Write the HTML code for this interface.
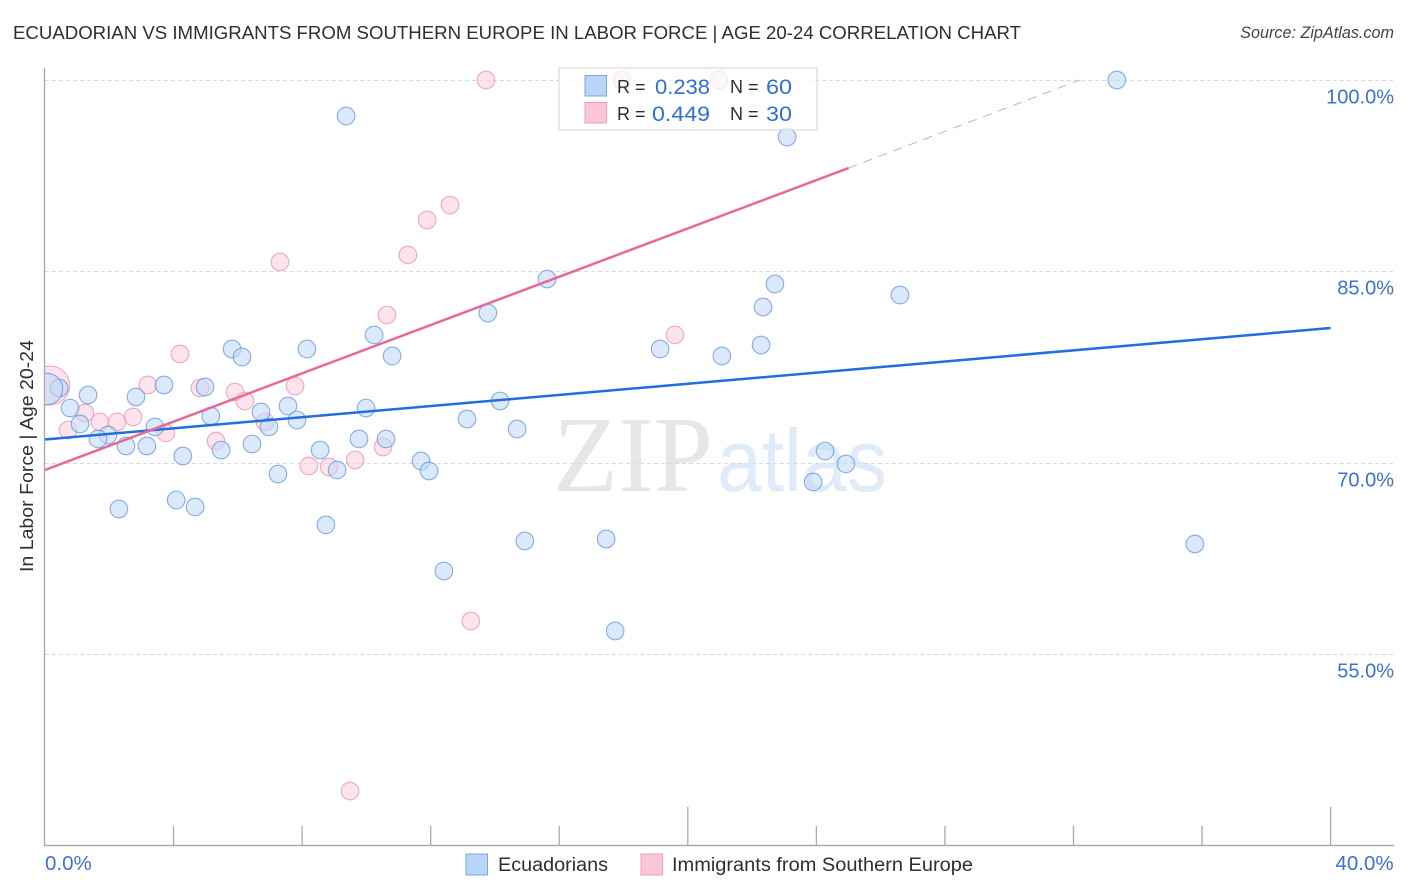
<!DOCTYPE html>
<html lang="en">
<head>
<meta charset="utf-8">
<title>Ecuadorian vs Immigrants from Southern Europe in Labor Force | Age 20-24 Correlation Chart</title>
<style>
html,body{margin:0;padding:0;background:#fff;width:1406px;height:892px;overflow:hidden}
svg{display:block;font-family:"Liberation Sans",sans-serif}
</style>
</head>
<body>
<svg id="chart" width="1406" height="892" viewBox="0 0 1406 892" xmlns="http://www.w3.org/2000/svg">
  <defs>
    <clipPath id="plot-clip"><rect x="45" y="60" width="1349" height="785"/></clipPath>
  </defs>
  <text x="13" y="39" font-size="18.5" fill="#2b2f36" textLength="1008" lengthAdjust="spacingAndGlyphs">ECUADORIAN VS IMMIGRANTS FROM SOUTHERN EUROPE IN LABOR FORCE | AGE 20-24 CORRELATION CHART</text>
  <text x="1394" y="38" font-size="16.2" font-style="italic" fill="#444" text-anchor="end">Source: ZipAtlas.com</text>

  <g id="watermark">
    <text x="553" y="491" font-family="'Liberation Serif',serif" font-size="108" fill="#e6e6e6" textLength="160" lengthAdjust="spacingAndGlyphs">ZIP</text>
    <text x="717" y="491" font-size="88" fill="#e0ebfa" textLength="170" lengthAdjust="spacingAndGlyphs">atlas</text>
  </g>

  <g id="grid"></g>
  <g id="axes"></g>
  <g id="pink-points" clip-path="url(#plot-clip)"></g>
  <g id="blue-points" clip-path="url(#plot-clip)"></g>
  <g id="trends"></g>

  <g id="top-legend">
    <rect x="559" y="68" width="258" height="62" fill="#fff" fill-opacity="0.72" stroke="#d9d9d9" stroke-width="1.2"/>
    <rect x="585" y="75.5" width="21.5" height="20.5" fill="#b9d5f8" stroke="#7ba7e6" stroke-width="1"/>
    <rect x="585" y="102.5" width="21.5" height="20.5" fill="#fbc6d8" stroke="#ef9db8" stroke-width="1"/>
    <g font-size="18" fill="#2b2f36">
      <text x="617" y="93">R =</text>
      <text x="730" y="93">N =</text>
      <text x="617" y="120">R =</text>
      <text x="730" y="120">N =</text>
    </g>
    <g font-size="21" fill="#2f6fd6">
      <text x="655" y="94" textLength="55" lengthAdjust="spacingAndGlyphs">0.238</text>
      <text x="766" y="94" textLength="26" lengthAdjust="spacingAndGlyphs">60</text>
      <text x="652" y="121" textLength="58" lengthAdjust="spacingAndGlyphs">0.449</text>
      <text x="766" y="121" textLength="26" lengthAdjust="spacingAndGlyphs">30</text>
    </g>
  </g>

  <text transform="translate(33 456) rotate(-90)" font-size="18.5" fill="#2b2f36" text-anchor="middle" textLength="232" lengthAdjust="spacingAndGlyphs">In Labor Force | Age 20-24</text>

  <g id="bottom-legend">
    <rect x="466" y="854" width="21.5" height="21" fill="#b9d5f8" stroke="#7ba7e6" stroke-width="1"/>
    <text x="498" y="871" font-size="19" fill="#2b2f36" textLength="110" lengthAdjust="spacingAndGlyphs">Ecuadorians</text>
    <rect x="641" y="854" width="21.5" height="21" fill="#fbc6d8" stroke="#ef9db8" stroke-width="1"/>
    <text x="672" y="871" font-size="19" fill="#2b2f36" textLength="301" lengthAdjust="spacingAndGlyphs">Immigrants from Southern Europe</text>
  </g>
</svg>
<script>
const yTickValues = [55, 70, 85, 100];
const yTickLabels = ['55.0%', '70.0%', '85.0%', '100.0%'];
const xEndValues = [0, 40];
const xEndLabels = ['0.0%', '40.0%'];
const xTickValues = [4, 8, 12, 16, 20, 24, 28, 32, 36, 40];
const xMajorTicks = [20, 40];

const blueX = [33.35,9.37,23.09,15.62,22.71,26.60,22.34,13.78,10.24,22.28,19.14,8.15,5.82,6.13,10.80,21.06,3.70,4.98,0.44,1.34,2.83,14.16,7.56,0.78,6.72,9.99,5.16,13.13,7.84,1.09,3.42,6.97,14.69,1.96,1.65,9.77,10.61,2.52,3.17,6.44,5.48,8.56,4.29,24.27,24.92,11.70,11.95,9.09,7.25,23.90,4.08,4.67,2.30,8.74,14.93,17.46,35.78,12.41,17.74,0.06];
const blueY = [100,97.18,95.53,84.40,84.01,83.15,82.21,81.74,80.02,79.23,78.92,78.92,78.92,78.29,78.37,78.37,76.10,75.94,75.86,75.31,75.16,74.84,74.45,74.29,73.98,74.29,73.67,73.43,73.35,73.04,72.81,72.81,72.65,72.18,71.87,71.87,71.87,71.32,71.32,71.47,71.00,71.00,70.53,70.92,69.91,70.14,69.36,69.44,69.12,68.50,67.08,66.54,66.38,65.13,63.87,64.03,63.64,61.52,56.82,75.78];
const pinkX = [13.72,17.95,20.97,12.60,11.89,11.29,7.31,10.64,19.60,4.20,3.20,4.82,7.78,5.91,6.22,1.24,2.74,1.71,2.24,6.85,0.72,3.76,5.32,10.52,9.65,8.21,8.84,13.25,9.49,0.16];
const pinkY = [100,100,100,90.20,89.03,86.29,85.74,81.58,80.02,78.53,76.10,75.86,76.02,75.55,74.84,73.90,73.59,73.20,73.20,73.20,72.57,72.34,71.71,71.24,70.22,69.75,69.67,57.60,44.28,76.06];
const blueWeights = new Array(59).fill(1).concat([3.2]);
const pinkWeights = new Array(29).fill(1).concat([4.9]);

const blueTrendX = [0, 40];
const blueTrendY = [71.83, 80.56];
const pinkTrendX = [0, 25];
const pinkTrendY = [69.44, 93.1];
const pinkDashX = [25, 32.2];
const pinkDashY = [93.1, 100];

const NS = 'http://www.w3.org/2000/svg';
function xScale(v) { return 45 + v * 32.14; }
function yScale(v) { return 80 + (100 - v) * 12.76; }
function make(tag, attrs, parent) {
  const el = document.createElementNS(NS, tag);
  for (const k in attrs) el.setAttribute(k, attrs[k]);
  parent.appendChild(el);
  return el;
}

const grid = document.getElementById('grid');
const axes = document.getElementById('axes');

yTickValues.forEach(function (v, i) {
  const y = Math.round(yScale(v)) + 0.5;
  const line = make('line', {x1: 45, x2: 1394, y1: y, y2: y, stroke: '#dadada', 'stroke-width': 1, 'stroke-dasharray': '4 3'}, grid);
  
  
  const t = make('text', {x: 1394, y: y + 23, 'font-size': 20, fill: '#3a72d4', 'text-anchor': 'end'}, axes);
  t.textContent = yTickLabels[i];
  
  
});

const yAxis = make('line', {x1: 44.5, x2: 44.5, y1: 68, y2: 846, stroke: '#aaaaaa', 'stroke-width': 1.4}, axes);


const xAxis = make('line', {x1: 44, x2: 1394, y1: 845.5, y2: 845.5, stroke: '#aaaaaa', 'stroke-width': 1.4}, axes);



xTickValues.forEach(function (v) {
  const x = xScale(v);
  const top = xMajorTicks.indexOf(v) >= 0 ? 807 : 826;
  const tick = make('line', {x1: x, x2: x, y1: top, y2: 845, stroke: '#aaaaaa', 'stroke-width': 1.3}, axes);
  
  
});

xEndValues.forEach(function (v, i) {
  const anchorEnd = i === xEndValues.length - 1;
  const t = make('text', {x: anchorEnd ? xScale(v) + 63 : xScale(v), y: 870, 'font-size': 20.5, fill: '#3a72d4', 'text-anchor': anchorEnd ? 'end' : 'start'}, axes);
  t.textContent = xEndLabels[i];
  
  
});

function drawPoints(groupId, xs, ys, weights, fill, stroke, name) {
  const g = document.getElementById(groupId);
  xs.forEach(function (v, i) {
    const c = make('circle', {cx: xScale(v), cy: yScale(ys[i]), r: 8.8 * Math.sqrt(weights[i]), fill: fill, 'fill-opacity': 0.58, stroke: stroke, 'stroke-opacity': 0.75, 'stroke-width': 1.1}, g);
    
    
  });
}
drawPoints('pink-points', pinkX, pinkY, pinkWeights, '#fbcfdd', '#ec8fae', 'immigrants-point');
drawPoints('blue-points', blueX, blueY, blueWeights, '#c2d9f7', '#5f94e0', 'ecuadorians-point');

const trends = document.getElementById('trends');
const blueLine = make('line', {x1: xScale(blueTrendX[0]), y1: yScale(blueTrendY[0]), x2: xScale(blueTrendX[1]), y2: yScale(blueTrendY[1]), stroke: '#1f6fdc', 'stroke-width': 2.5}, trends);


const pinkLine = make('line', {x1: xScale(pinkTrendX[0]), y1: yScale(pinkTrendY[0]), x2: xScale(pinkTrendX[1]), y2: yScale(pinkTrendY[1]), stroke: '#e8689a', 'stroke-width': 2.5}, trends);


const pinkDash = make('line', {x1: xScale(pinkDashX[0]), y1: yScale(pinkDashY[0]), x2: xScale(pinkDashX[1]), y2: yScale(pinkDashY[1]), stroke: '#e8a0b8', 'stroke-width': 1, 'stroke-dasharray': '9 7'}, trends);


</script>
</body>
</html>
